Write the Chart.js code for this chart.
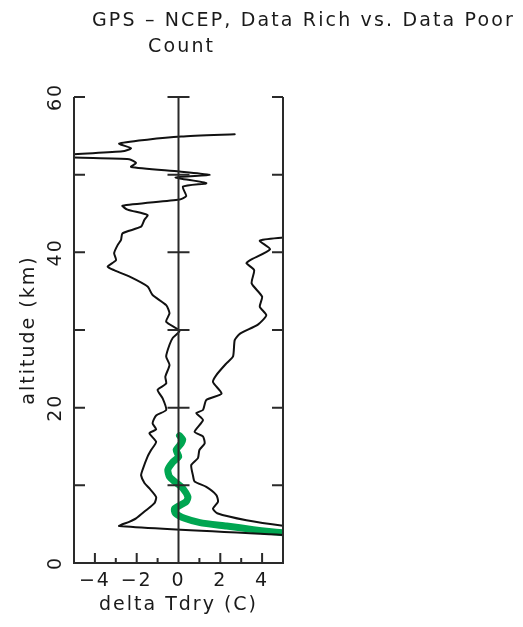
<!DOCTYPE html>
<html><head><meta charset="utf-8">
<script src="https://cdn.jsdelivr.net/npm/chart.js@4/dist/chart.umd.min.js"></script>
<style>html,body{margin:0;padding:0;background:#fff}</style>
</head><body>
<canvas id="c" width="523" height="627"></canvas>
<script>
// ---------- data ----------
const titleLine1 = 'GPS – NCEP, Data Rich vs. Data Poor';
const titleLine2 = 'Count';
const xAxisTitle = 'delta Tdry (C)';
const yAxisTitle = 'altitude (km)';

const xTickVals = [-4, -2, 0, 2, 4];
const xMinorVals = [-3, -1, 1, 3];
const yTickVals = [0, 20, 40, 60];
const yMarkVals = [0, 10, 20, 30, 40, 50, 60];

// curve 1 (left black line), ordered from top to bottom
const c1Alt = [55.2, 54.9, 54.5, 54.0, 53.4, 53.0, 52.55, 52.25, 52.0, 51.5, 51.0, 50.4, 49.95, 49.65, 48.9, 48.45, 47.25, 46.8, 46.0, 45.5, 44.8, 44.2, 43.3, 42.45, 41.6, 40.9, 39.9, 39.0, 38.15, 37.7, 36.9, 35.6, 34.5, 33.2, 32.15, 31.05, 29.9, 29.0, 28.1, 26.6, 25.5, 24.0, 23.1, 22.3, 21.2, 19.7, 19.0, 18.0, 17.2, 16.7, 15.6, 14.55, 13.7, 12.0, 11.3, 10.3, 9.6, 8.5, 7.7, 6.8, 5.75, 5.3, 4.76, 3.55];
const c1Dt  = [2.69, 0.13, -1.5, -2.84, -2.27, -2.68, -5.5, -5.5, -2.36, -2.03, -2.27, 0.05, 1.49, -0.14, 1.33, 0.21, 0.37, 0.05, -2.68, -2.44, -1.48, -1.63, -1.79, -2.68, -2.75, -2.92, -3.08, -2.99, -3.39, -3.08, -2.36, -1.48, -1.24, -0.59, -0.43, -0.59, 0.05, -0.27, -0.43, -0.59, -0.43, -0.63, -0.59, -1.0, -0.76, -0.59, -1.07, -1.24, -1.07, -1.39, -1.07, -1.31, -1.48, -1.72, -1.79, -1.63, -1.39, -1.07, -1.15, -1.55, -2.03, -2.36, -2.84, 5.5];

// curve 2 (right black line)
const c2Alt = [42.0, 41.9, 41.5, 40.4, 39.0, 38.6, 37.7, 36.0, 34.3, 33.0, 31.9, 30.7, 29.5, 28.7, 26.6, 25.7, 24.2, 23.3, 21.8, 21.0, 19.7, 19.3, 18.4, 16.9, 16.3, 15.4, 14.55, 13.5, 12.6, 11.3, 10.5, 9.8, 8.75, 7.9, 7.0, 6.4, 5.5, 4.8, 4.75];
const c2Dt  = [5.5, 5.0, 3.89, 4.38, 3.43, 3.25, 3.62, 3.5, 4.0, 3.89, 4.2, 3.8, 2.93, 2.69, 2.61, 2.29, 1.81, 1.65, 2.06, 1.33, 1.17, 0.85, 1.17, 0.77, 1.17, 1.25, 1.0, 0.93, 0.61, 0.69, 0.77, 1.33, 1.81, 1.89, 1.65, 1.85, 3.25, 5.0, 5.5];

// green thick line
const gAlt = [16.4, 15.9, 15.4, 14.55, 13.7, 13.0, 12.0, 11.1, 10.5, 9.6, 8.5, 7.9, 7.0, 6.4, 5.75, 5.2, 4.76, 4.3, 3.9, 3.85];
const gDt  = [0.05, 0.2, 0.13, -0.11, 0.01, -0.27, -0.51, -0.43, -0.19, 0.21, 0.45, 0.37, -0.19, -0.15, 0.29, 1.03, 2.3, 3.58, 5.0, 5.5];

// ---------- chart ----------
const pts = (xs, ys) => xs.map((v, i) => ({x: v, y: ys[i]}));
const FONT = 'DejaVu Sans';
const INK = '#1a1a1a';
const SIZE = 19;

const framePlugin = {
  id: 'frame',
  beforeDraw(chart) {
    if ('letterSpacing' in chart.ctx) chart.ctx.letterSpacing = '2px';
  },
  afterDatasetsDraw(chart) {
    const {ctx, chartArea: a, scales: {x, y}} = chart;
    ctx.save();
    ctx.strokeStyle = '#2a2a2a';
    ctx.lineWidth = 2;
    ctx.beginPath();
    ctx.moveTo(a.left, a.top); ctx.lineTo(a.left, a.bottom);
    ctx.lineTo(a.right, a.bottom); ctx.lineTo(a.right, a.top);
    const x0 = x.getPixelForValue(0);
    ctx.moveTo(x0, a.top); ctx.lineTo(x0, a.bottom);
    yMarkVals.forEach(v => {
      const py = y.getPixelForValue(v);
      ctx.moveTo(a.left, py); ctx.lineTo(a.left + 11, py);
      ctx.moveTo(a.right, py); ctx.lineTo(a.right - 11, py);
      ctx.moveTo(x0 - 11, py); ctx.lineTo(x0 + 11, py);
    });
    xTickVals.forEach(v => {
      const px = x.getPixelForValue(v);
      ctx.moveTo(px, a.bottom); ctx.lineTo(px, a.bottom - 10);
    });
    xMinorVals.forEach(v => {
      const px = x.getPixelForValue(v);
      ctx.moveTo(px, a.bottom); ctx.lineTo(px, a.bottom - 5);
    });
    ctx.stroke();
    ctx.restore();
  },
  afterDraw(chart) {
    const ctx = chart.ctx;
    ctx.save();
    ctx.fillStyle = INK;
    ctx.font = SIZE + 'px "' + FONT + '"';
    ctx.textBaseline = 'alphabetic';
    ctx.textAlign = 'left';
    if ('letterSpacing' in ctx) ctx.letterSpacing = '0px';
    const w = ctx.measureText(titleLine1).width;
    const ls = (423 - w) / titleLine1.length;
    if ('letterSpacing' in ctx) ctx.letterSpacing = ls.toFixed(2) + 'px';
    ctx.fillText(titleLine1, 92, 26);
    ctx.fillText(titleLine2, 148, 52);
    ctx.restore();
  }
};

const lineDs = (label, data, color, width) => ({
  label, data, borderColor: color, borderWidth: width, pointRadius: 0,
  showLine: true, fill: false, tension: 0.2, borderJoinStyle: 'round', borderCapStyle: 'round'
});

new Chart(document.getElementById('c'), {
  type: 'scatter',
  data: {
    datasets: [
      lineDs('Data Rich', pts(c1Dt, c1Alt), '#111111', 2),
      lineDs('Data Poor', pts(c2Dt, c2Alt), '#111111', 2),
      lineDs('Count', pts(gDt, gAlt), '#00a651', 7)
    ]
  },
  options: {
    responsive: false,
    animation: false,
    layout: {padding: {top: 97, right: 240, bottom: 0, left: 0}},
    plugins: {legend: {display: false}, title: {display: false}, tooltip: {enabled: false}},
    scales: {
      x: {
        type: 'linear', min: -5, max: 5,
        grid: {display: false, drawTicks: false},
        border: {display: false},
        afterBuildTicks: s => { s.ticks = xTickVals.map(v => ({value: v})); },
        afterFit: s => { s.height = 64; },
        ticks: {
          autoSkip: false, padding: 7, color: INK, maxRotation: 0,
          font: {family: FONT, size: SIZE},
          callback: v => (v < 0 ? '−' + Math.abs(v) : String(v))
        },
        title: {display: true, text: xAxisTitle, color: INK, font: {family: FONT, size: SIZE}, padding: {top: 0, bottom: 11}}
      },
      y: {
        type: 'linear', min: 0, max: 60,
        grid: {display: false, drawTicks: false},
        border: {display: false},
        afterBuildTicks: s => { s.ticks = yTickVals.map(v => ({value: v})); },
        afterFit: s => { s.width = 74; },
        ticks: {
          autoSkip: false, padding: 6, color: INK, minRotation: 90, maxRotation: 90,
          crossAlign: 'center',
          font: {family: FONT, size: SIZE}
        },
        title: {display: true, text: yAxisTitle, color: INK, font: {family: FONT, size: SIZE}, padding: {top: 18, bottom: 0}}
      }
    }
  },
  plugins: [framePlugin]
});
</script>
</body></html>
